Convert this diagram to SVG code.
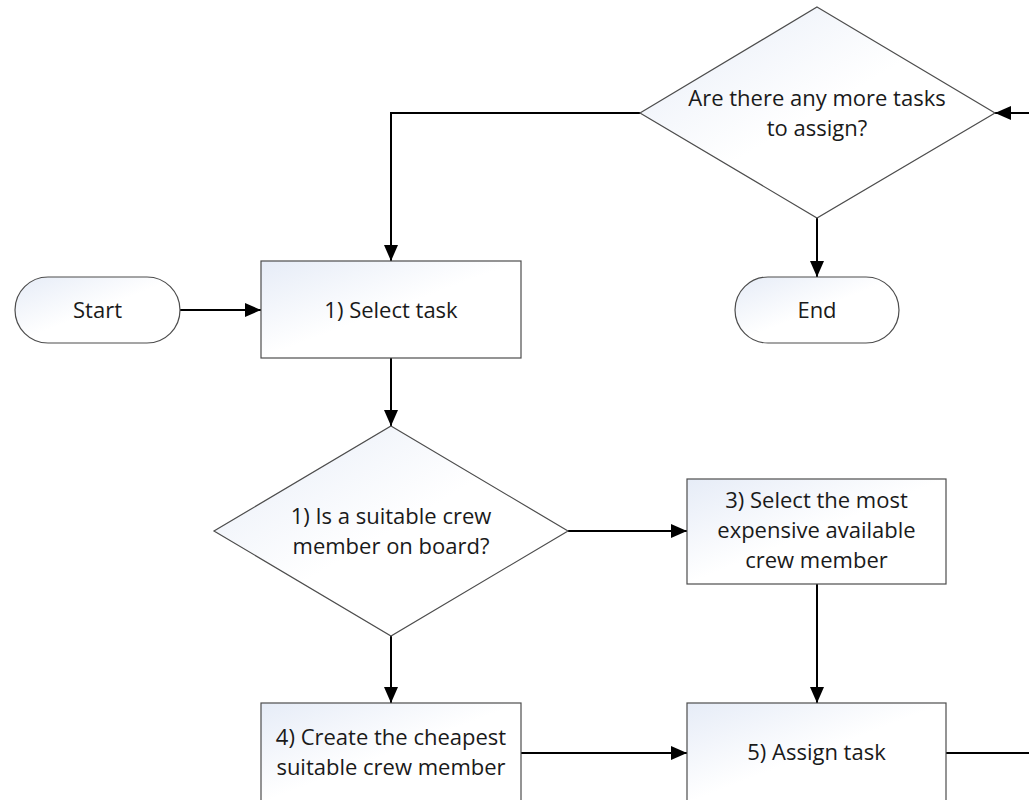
<svg xmlns="http://www.w3.org/2000/svg" width="1029" height="800" viewBox="0 0 1029 800">
<defs>
<linearGradient id="g" x1="0" y1="0" x2="1" y2="1">
<stop offset="0" stop-color="#e6ecf7"/>
<stop offset="0.5" stop-color="#ffffff"/>
<stop offset="1" stop-color="#ffffff"/>
</linearGradient>
<marker id="ah" markerWidth="16" markerHeight="14" refX="16" refY="7" orient="auto" markerUnits="userSpaceOnUse">
<path d="M0,0 L16,7 L0,14 z" fill="#000"/>
</marker>
<style>
.s{fill:url(#g);stroke:#4d4d4d;stroke-width:1.2}
.t{font-family:"Open Sans",Lato,sans-serif;font-size:22px;fill:#1a1a1a;text-anchor:middle}
.c{fill:none;stroke:#000;stroke-width:2;marker-end:url(#ah)}
.l{fill:none;stroke:#000;stroke-width:2}
</style>
</defs>
<rect width="1029" height="800" fill="#fff"/>
<g id="connectors">
<path class="c" d="M180,310 H261"/>
<path class="c" d="M640,113 H391 V261"/>
<path class="c" d="M1029,113 H995"/>
<path class="c" d="M817,218 V277"/>
<path class="c" d="M391,358 V426"/>
<path class="c" d="M568,531 H687"/>
<path class="c" d="M391,636 V703"/>
<path class="c" d="M817,584 V703"/>
<path class="c" d="M521,753 H687"/>
<path class="l" d="M946,753 H1029"/>
</g>
<g id="start">
<rect class="s" x="15" y="277" width="165" height="66" rx="33"/>
<text class="t" x="97.5" y="318">Start</text>
</g>
<g id="select-task">
<rect class="s" x="261" y="261" width="260" height="97"/>
<text class="t" x="391" y="318">1) Select task</text>
</g>
<g id="more-tasks">
<polygon class="s" points="817,7 995,113 817,218 640,113"/>
<text class="t" x="817" y="106">Are there any more tasks</text>
<text class="t" x="817" y="136">to assign?</text>
</g>
<g id="end">
<rect class="s" x="735" y="277" width="164" height="66" rx="33"/>
<text class="t" x="817" y="318">End</text>
</g>
<g id="suitable">
<polygon class="s" points="391,426 568,531 391,636 214,531"/>
<text class="t" x="391" y="524">1) Is a suitable crew</text>
<text class="t" x="391" y="554">member on board?</text>
</g>
<g id="select-expensive">
<rect class="s" x="687" y="479" width="259" height="105"/>
<text class="t" x="816.5" y="508">3) Select the most</text>
<text class="t" x="816.5" y="538">expensive available</text>
<text class="t" x="816.5" y="568">crew member</text>
</g>
<g id="create-cheapest">
<rect class="s" x="261" y="703" width="260" height="100"/>
<text class="t" x="391" y="745">4) Create the cheapest</text>
<text class="t" x="391" y="775">suitable crew member</text>
</g>
<g id="assign">
<rect class="s" x="687" y="703" width="259" height="100"/>
<text class="t" x="816.5" y="760">5) Assign task</text>
</g>
</svg>
